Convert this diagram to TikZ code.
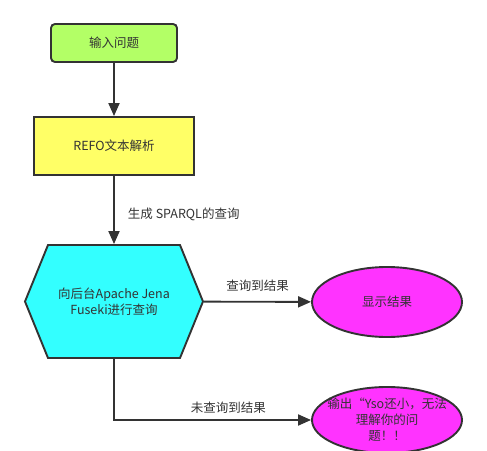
\documentclass[tikz,border=0pt]{standalone}
\usepackage{fontspec}
\setmainfont{Noto Sans CJK SC}
\usetikzlibrary{shapes.geometric,arrows.meta}
\definecolor{inkgray}{HTML}{333333}
\definecolor{boxgreen}{HTML}{B3FF66}
\definecolor{boxyellow}{HTML}{FFFF66}
\definecolor{hexcyan}{HTML}{33FFFF}
\definecolor{ovalpink}{HTML}{FF33FF}

\begin{document}
\begin{tikzpicture}[x=1pt, y=-1pt, line width=1.9pt,
  every node/.style={font=\fontsize{12.5}{16}\selectfont, text=inkgray},
  stepbox/.style={draw=inkgray, line width=1.9pt},
  oval/.style={draw=inkgray, line width=1.9pt, ellipse, fill=ovalpink, minimum width=150pt, inner sep=0pt},
  conn/.style={draw=inkgray, -{Triangle[length=13pt, width=11pt]}},
  tag/.style={inner sep=2pt}]
  \useasboundingbox (0,0) rectangle (487,450);
  \node[stepbox, fill=boxgreen, rounded corners=4pt, minimum width=126pt, minimum height=38pt] (input) at (114,43) {输入问题};
  \node[stepbox, fill=boxyellow, minimum width=160pt, minimum height=58pt] (parse) at (114,146) {REFO文本解析};
  \draw[draw=inkgray, fill=hexcyan] (25,301.5) -- (48,245) -- (180,245) -- (203,301.5) -- (180,358) -- (48,358) -- cycle;
  \node[minimum width=178pt, minimum height=113pt, align=center] (query) at (114,301.5) {向后台Apache Jena\\Fuseki进行查询};
  \node[oval, minimum height=70pt] (show) at (387,302) {显示结果};
  \node[oval, minimum height=66pt, label={[align=center]center:输出“Yso还小，无法\\理解你的问\\题！！}] (fail) at (387,420) {};
  \draw[conn] (input) -- (parse);
  \draw[conn] (parse) -- node[tag, pos=0.57, right=11pt] {生成 SPARQL的查询} (query);
  \draw[conn] (query) -- node[tag, above=7pt] {查询到结果} (show);
  \draw[conn] (query) |- node[tag, pos=0.79, above=4pt] {未查询到结果} (fail);
\end{tikzpicture}
\end{document}
